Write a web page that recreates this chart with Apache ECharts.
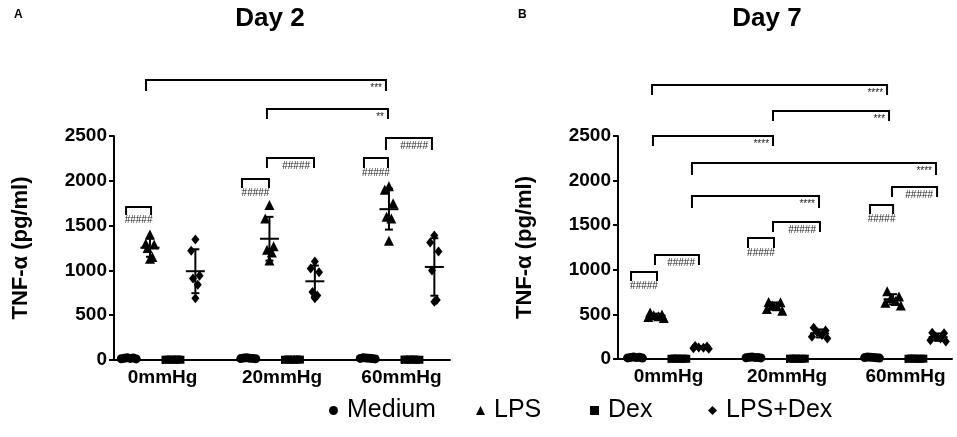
<!DOCTYPE html>
<html><head><meta charset="utf-8">
<script src="https://cdn.jsdelivr.net/npm/echarts@6/dist/echarts.min.js"></script>
<style>html,body{margin:0;padding:0;background:#fff}#c{width:957px;height:437px}</style>
</head><body><div id="c"></div>
<script>
const categories = ['0mmHg', '20mmHg', '60mmHg'];
const groupNames = ['Medium', 'LPS', 'Dex', 'LPS+Dex'];
const yTicks = [0, 500, 1000, 1500, 2000, 2500];
const panelTitles = ['Day 2', 'Day 7'];
const panelLetters = ['A', 'B'];

// Day 2 values (pg/ml), per pressure group
const day2Medium = [[14, 20, 24, 18, 22, 12], [16, 22, 25, 20, 18, 14], [18, 24, 22, 20, 16, 12]];
const day2LPS = [[1400, 1300, 1290, 1250, 1150, 1130], [1730, 1580, 1270, 1230, 1200, 1110], [1940, 1900, 1750, 1600, 1580, 1330]];
const day2Dex = [[4, 3, 5, 2, 6, 3], [3, 5, 4, 2, 6, 4], [5, 3, 4, 6, 2, 3]];
const day2LPSDex = [[1345, 1220, 940, 910, 840, 690], [1100, 1020, 980, 760, 720, 690], [1390, 1310, 1210, 1000, 670, 650]];

// Day 7 values (pg/ml)
const day7Medium = [[12, 18, 22, 16, 20, 10], [14, 20, 22, 18, 16, 12], [16, 22, 20, 18, 14, 10]];
const day7LPS = [[520, 500, 490, 480, 470, 460], [640, 635, 600, 590, 560, 540], [760, 700, 680, 650, 630, 600]];
const day7Dex = [[3, 4, 5, 2, 4, 3], [4, 3, 5, 2, 3, 4], [3, 5, 4, 2, 3, 4]];
const day7LPSDex = [[145, 140, 130, 125, 120, 115], [350, 320, 300, 270, 250, 230], [295, 290, 250, 230, 210, 195]];

// significance brackets: [x start, x end, top value, leg end value]
const day2Brackets = [
  [-0.138, 1.870, 3125, 3002], [0.874, 1.887, 2801, 2690], [0.874, 1.268, 2254, 2143],
  [1.870, 2.255, 2478, 2344], [-0.305, -0.096, 1708, 1618], [0.665, 0.891, 2020, 1920],
  [1.686, 1.887, 2254, 2143]
];
const day2BracketText = ['***', '**', '#####', '#####', '#####', '#####', '#####'];
const day7Brackets = [
  [-0.139, 1.844, 3072, 2960], [0.882, 1.861, 2780, 2668], [-0.131, 0.882, 2500, 2388],
  [0.198, 2.257, 2197, 2063], [0.198, 1.270, 1827, 1693], [-0.316, -0.097, 975, 874],
  [-0.114, 0.257, 1166, 1054], [0.671, 0.890, 1357, 1244], [0.882, 1.278, 1536, 1424],
  [1.700, 1.895, 1727, 1626], [1.886, 2.266, 1928, 1816]
];
const day7BracketText = ['****', '***', '****', '****', '****', '#####', '#####', '#####', '#####', '#####', '#####'];

// within-group position of each treatment and the scatter of the points
const offsets = [-0.285, -0.105, 0.085, 0.275];
const jitterSpread = [-0.06, -0.035, -0.01, 0.015, 0.04, 0.065];
const jitterNarrow = [0.0, -0.035, 0.035, -0.02, 0.02, 0.0];
const jitterWide = [-0.05, 0.05, -0.02, 0.02, -0.065, 0.065];

const panels = [
  { values: [day2Medium, day2LPS, day2Dex, day2LPSDex], jitter: [jitterSpread, jitterNarrow, jitterSpread, jitterNarrow], brackets: day2Brackets, texts: day2BracketText },
  { values: [day7Medium, day7LPS, day7Dex, day7LPSDex], jitter: [jitterSpread, jitterWide, jitterSpread, jitterWide], brackets: day7Brackets, texts: day7BracketText }
];

const FONT = 'Liberation Sans, Arial, Helvetica, sans-serif';
const symbols = ['circle', 'triangle', 'rect', 'diamond'];
const symbolSizes = [9, 10, 8, [8, 10]];

function meanSd(a) {
  const m = a.reduce((s, v) => s + v, 0) / a.length;
  const v = a.reduce((s, x) => s + (x - m) * (x - m), 0) / (a.length - 1);
  return [m, Math.sqrt(v)];
}

const series = [];
panels.forEach((p, pi) => {
  p.values.forEach((groups, si) => {
    const data = [];
    groups.forEach((vals, gi) => {
      vals.forEach((v, i) => data.push([gi + offsets[si] + p.jitter[si][i], v]));
    });
    series.push({
      type: 'scatter', name: groupNames[si], xAxisIndex: pi, yAxisIndex: pi,
      symbol: symbols[si], symbolSize: symbolSizes[si], clip: false,
      itemStyle: { color: '#000', opacity: 1 }, data, z: 3, silent: true
    });
  });
  // mean ± SD bars
  const ebData = [];
  p.values.forEach((groups, si) => {
    groups.forEach((vals, gi) => {
      const [m, sd] = meanSd(vals);
      ebData.push([gi + offsets[si], m, sd]);
    });
  });
  series.push({
    type: 'custom', name: 'err' + pi, xAxisIndex: pi, yAxisIndex: pi, clip: false, silent: true, z: 4,
    data: ebData,
    renderItem(params, api) {
      const x = api.value(0), m = api.value(1), sd = api.value(2);
      const pm = api.coord([x, m]), pt = api.coord([x, m + sd]), pb = api.coord([x, Math.max(0, m - sd)]);
      const st = { stroke: '#000', lineWidth: 2 };
      return { type: 'group', children: [
        { type: 'line', shape: { x1: pm[0], y1: pt[1], x2: pm[0], y2: pb[1] }, style: st },
        { type: 'line', shape: { x1: pm[0] - 9.5, y1: pm[1], x2: pm[0] + 9.5, y2: pm[1] }, style: st },
        { type: 'line', shape: { x1: pm[0] - 4, y1: pt[1], x2: pm[0] + 4, y2: pt[1] }, style: st },
        { type: 'line', shape: { x1: pm[0] - 4, y1: pb[1], x2: pm[0] + 4, y2: pb[1] }, style: st }
      ] };
    }
  });
  // brackets
  series.push({
    type: 'custom', name: 'br' + pi, xAxisIndex: pi, yAxisIndex: pi, clip: false, silent: true, z: 5,
    data: p.brackets,
    renderItem(params, api) {
      const x1 = api.value(0), x2 = api.value(1), yt = api.value(2), yb = api.value(3);
      const a = api.coord([x1, yb]), b = api.coord([x1, yt]), c = api.coord([x2, yt]), d = api.coord([x2, yb]);
      const txt = p.texts[params.dataIndex];
      const narrow = (x2 - x1) < 0.3;
      const label = narrow
        ? { type: 'text', style: { text: txt, x: (a[0] + d[0]) / 2, y: a[1] + 5, align: 'center', verticalAlign: 'middle', fontSize: 10, fontFamily: FONT, fill: '#222' } }
        : { type: 'text', style: { text: txt, x: c[0] - 4, y: c[1] + 8.5, align: 'right', verticalAlign: 'middle', fontSize: 10, fontFamily: FONT, fill: '#222' } };
      return { type: 'group', children: [
        { type: 'polyline', shape: { points: [a, b, c, d] }, style: { stroke: '#000', lineWidth: 2, fill: null } },
        label
      ] };
    }
  });
});

function xAxisCfg(gi, min, max) {
  return {
    type: 'value', gridIndex: gi, min, max,
    axisLine: { show: true, onZero: false, lineStyle: { color: '#000', width: 2 } },
    axisTick: { show: true, customValues: [0, 1, 2], length: 4, inside: false, lineStyle: { color: '#000', width: 2 } },
    axisLabel: { show: true, customValues: [0, 1, 2], formatter: v => categories[Math.round(v)], color: '#000', fontWeight: 'bold', fontSize: 19, margin: 8, fontFamily: FONT },
    splitLine: { show: false }
  };
}
function yAxisCfg(gi) {
  return {
    type: 'value', gridIndex: gi, min: 0, max: 2500, interval: 500,
    name: 'TNF-α (pg/ml)', nameLocation: 'middle', nameGap: 82,
    nameTextStyle: { color: '#000', fontWeight: 'bold', fontSize: 22, fontFamily: FONT },
    axisLine: { show: true, onZero: false, lineStyle: { color: '#000', width: 2 } },
    axisTick: { show: true, length: 5, lineStyle: { color: '#000', width: 2 } },
    axisLabel: { show: true, customValues: yTicks, formatter: v => String(v), color: '#000', fontWeight: 'bold', fontSize: 19, margin: 7, fontFamily: FONT },
    splitLine: { show: false }
  };
}

const legendPos = [324, 471, 585, 703];
const legends = groupNames.map((n, i) => ({
  data: [{ name: n, icon: symbols[i] }],
  left: legendPos[i], top: 393, itemWidth: 9, itemHeight: 9,
  selectedMode: false,
  textStyle: { fontSize: 25, color: '#000', fontFamily: FONT, padding: [0, 0, 0, 4] },
  itemStyle: { color: '#000' }
}));

const chart = echarts.init(document.getElementById('c'), null, { renderer: 'canvas' });
chart.setOption({
  animation: false,
  backgroundColor: '#fff',
  textStyle: { fontFamily: FONT },
  title: [
    { text: panelLetters[0], left: 9, top: 4, textStyle: { fontSize: 12, fontWeight: 'bold', color: '#000', fontFamily: FONT } },
    { text: panelTitles[0], left: 265, top: 1, textAlign: 'center', textStyle: { fontSize: 26, fontWeight: 'bold', color: '#000', fontFamily: FONT } },
    { text: panelLetters[1], left: 513, top: 4, textStyle: { fontSize: 12, fontWeight: 'bold', color: '#000', fontFamily: FONT } },
    { text: panelTitles[1], left: 762, top: 1, textAlign: 'center', textStyle: { fontSize: 26, fontWeight: 'bold', color: '#000', fontFamily: FONT } }
  ],
  legend: legends,
  grid: [
    { left: 114, top: 136, width: 336, height: 224, containLabel: false, outerBoundsMode: 'none' },
    { left: 618, top: 136, width: 334, height: 223, containLabel: false, outerBoundsMode: 'none' }
  ],
  xAxis: [xAxisCfg(0, -0.406, 2.406), xAxisCfg(1, -0.426, 2.392)],
  yAxis: [yAxisCfg(0), yAxisCfg(1)],
  series
});
</script></body></html>
